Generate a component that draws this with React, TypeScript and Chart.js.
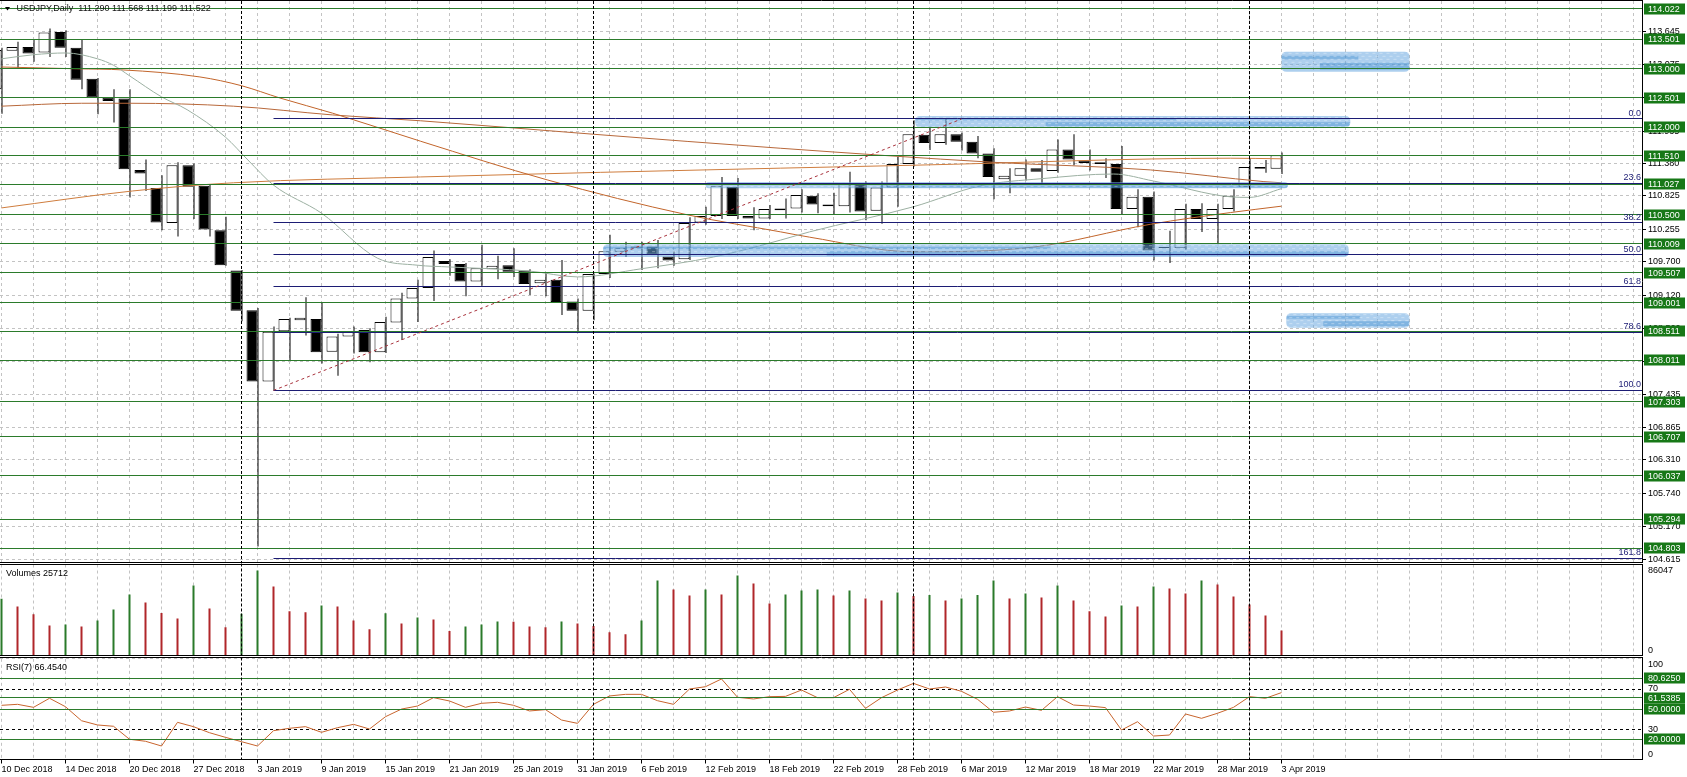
import React, { useEffect, useRef } from 'react';
import { Chart, registerables } from 'chart.js';

Chart.register(...registerables);

// ---------------- data ----------------
const dateLabels = [
  '10 Dec 2018', '14 Dec 2018', '20 Dec 2018', '27 Dec 2018', '3 Jan 2019', '9 Jan 2019',
  '15 Jan 2019', '21 Jan 2019', '25 Jan 2019', '31 Jan 2019', '6 Feb 2019', '12 Feb 2019',
  '18 Feb 2019', '22 Feb 2019', '28 Feb 2019', '6 Mar 2019', '12 Mar 2019', '18 Mar 2019',
  '22 Mar 2019', '28 Mar 2019', '3 Apr 2019',
];

const opens = [
  112.65, 113.31, 113.37, 113.28, 113.63, 113.36, 112.83, 112.51, 112.49, 111.27,
  110.96, 110.36, 111.35, 111.0, 110.24, 109.55, 108.87, 107.65, 108.51, 108.7,
  108.72, 108.16, 108.42, 108.53, 108.15, 108.66, 109.07, 109.25, 109.71, 109.66,
  109.36, 109.57, 109.64, 109.55, 109.33, 109.39, 109.02, 108.86, 109.49, 109.87,
  109.96, 109.96, 109.79, 109.74, 110.37, 110.48, 110.98, 110.48, 110.44, 110.61,
  110.61, 110.83, 110.68, 110.65, 111.03, 110.57, 110.97, 111.37, 111.87, 111.73,
  111.88, 111.75, 111.55, 111.11, 111.17, 111.3, 111.25, 111.62, 111.43, 111.4,
  111.37, 110.6, 110.81, 109.95, 109.93, 110.6, 110.43, 110.6, 110.98, 111.32,
  111.29,
];
const highs = [
  113.36, 113.46, 113.5, 113.69, 113.66, 113.5, 112.84, 112.65, 112.65, 111.45,
  111.18, 111.4, 111.38, 111.01, 110.47, 109.56, 108.91, 108.59, 108.74, 109.09,
  109.0, 108.47, 108.59, 108.56, 108.76, 109.17, 109.39, 109.89, 109.74, 109.68,
  109.99, 109.8, 109.93, 109.57, 109.51, 109.73, 109.07, 109.5, 110.16, 110.04,
  110.04, 110.07, 109.88, 110.46, 110.64, 111.15, 111.13, 110.63, 110.67, 110.78,
  110.94, 110.87, 110.88, 111.24, 111.07, 111.07, 111.5, 112.12, 112.01, 112.14,
  111.91, 111.85, 111.64, 111.3, 111.45, 111.44, 111.79, 111.88, 111.62, 111.47,
  111.68, 110.94, 110.9, 110.23, 110.69, 110.7, 110.69, 110.94, 111.47, 111.44,
  111.568,
];
const lows = [
  112.23, 113.01, 113.12, 113.2, 113.2, 112.65, 112.22, 112.08, 110.8, 110.91,
  110.24, 110.13, 110.43, 110.13, 109.63, 108.68, 104.83, 107.5, 108.02, 108.44,
  107.96, 107.75, 108.13, 107.98, 108.14, 108.36, 108.67, 109.03, 109.46, 109.11,
  109.29, 109.4, 109.44, 109.13, 109.11, 108.79, 108.5, 108.7, 109.42, 109.78,
  109.56, 109.59, 109.63, 109.73, 110.33, 110.43, 110.43, 110.24, 110.43, 110.44,
  110.54, 110.53, 110.51, 110.54, 110.41, 110.35, 110.64, 111.33, 111.61, 111.7,
  111.6, 111.47, 110.77, 110.87, 111.09, 111.01, 111.22, 111.35, 111.26, 111.13,
  110.5, 110.29, 109.72, 109.68, 109.91, 110.21, 110.0, 110.56, 110.93, 111.22,
  111.199,
];
const closes = [
  113.32, 113.37, 113.26, 113.62, 113.36, 112.81, 112.51, 112.45, 111.28, 111.21,
  110.37, 111.35, 110.98, 110.25, 109.64, 108.86, 107.65, 108.5, 108.72, 108.74,
  108.15, 108.42, 108.5, 108.15, 108.67, 109.07, 109.25, 109.78, 109.66, 109.36,
  109.59, 109.63, 109.53, 109.32, 109.39, 109.01, 108.86, 109.49, 109.88, 109.94,
  109.94, 109.82, 109.72, 110.36, 110.48, 111.0, 110.48, 110.44, 110.6, 110.58,
  110.84, 110.68, 110.65, 111.03, 110.56, 110.97, 111.37, 111.88, 111.73, 111.88,
  111.75, 111.55, 111.15, 111.17, 111.3, 111.24, 111.62, 111.45, 111.39, 111.37,
  110.6, 110.81, 109.89, 109.93, 110.6, 110.43, 110.6, 110.83, 111.32, 111.29,
  111.522,
];

const volumes = [
  57600, 49900, 41900, 30800, 31800, 29800, 35800, 46900, 61900, 53900,
  43200, 37800, 71000, 47900, 28800, 42500, 86047, 70000, 44900, 43900,
  50900, 49900, 35800, 26800, 42900, 32800, 38800, 36800, 25100, 29800,
  31800, 34800, 34500, 29800, 28800, 34800, 32800, 30100, 23800, 21800,
  35800, 76000, 67000, 60900, 67000, 61900, 81000, 73000, 52900, 61900,
  66000, 67000, 60900, 66000, 57900, 55900, 63900, 60300, 61300, 55900,
  57900, 61300, 76000, 57900, 62900, 58900, 71000, 55900, 44900, 39800,
  50900, 49900, 70000, 68000, 62900, 76000, 72000, 59900, 51900, 40800,
  25712,
];

const rsiValues = [
  53.8, 54.8, 51.8, 60.8, 52.4, 38.5, 34.3, 33.0, 20.1, 18.1,
  13.4, 36.9, 32.6, 26.6, 22.0, 17.7, 13.4, 28.6, 31.0, 32.6,
  27.0, 31.6, 34.9, 30.3, 42.5, 50.1, 53.1, 61.4, 58.1, 51.8,
  55.8, 56.8, 53.8, 48.2, 49.5, 39.2, 35.9, 54.8, 63.1, 64.7,
  64.7, 58.4, 54.8, 70.0, 72.3, 80.0, 61.8, 60.1, 62.4, 62.7,
  69.0, 61.4, 61.4, 69.7, 50.8, 61.4, 69.0, 75.6, 70.0, 72.0,
  67.7, 59.8, 46.9, 48.2, 52.1, 48.8, 62.4, 54.1, 53.1, 51.5,
  29.3, 37.5, 23.3, 24.3, 45.2, 40.9, 45.9, 51.8, 62.4, 60.8,
  66.454,
];

// moving averages: [bar, price]
const maFast = [
  [0, 113.17], [2, 113.24], [4, 113.27], [6, 113.17], [7, 113.06], [8, 112.88], [10, 112.52],
  [11.6, 112.3], [14, 111.83], [15.4, 111.44], [17, 111.01], [20, 110.53], [23.5, 109.76],
  [26, 109.64], [28, 109.61], [33, 109.54], [36, 109.44], [40, 109.58], [44.5, 109.78],
  [48.7, 110.07], [50.5, 110.21], [57, 110.64], [61.2, 111.0], [65, 111.12], [69.5, 111.2],
  [72, 111.08], [76.8, 110.81], [78, 110.8], [80, 110.95],
];
const ma50 = [
  [0, 113.03], [4.7, 113.0], [7.6, 112.98], [12.4, 112.86], [15, 112.71], [17.4, 112.5],
  [20.7, 112.24], [26.2, 111.76], [34.1, 111.1], [42.9, 110.5], [48.7, 110.21], [50.5, 110.12],
  [57, 109.87], [64.5, 109.95], [71.8, 110.34], [76.8, 110.54], [80, 110.65],
];
const ma100 = [
  [0, 112.36], [5, 112.41], [8, 112.41], [14.5, 112.36], [20.7, 112.21], [26.2, 112.11],
  [37, 111.88], [48.7, 111.64], [62, 111.4], [71.8, 111.27], [78.9, 111.07], [80, 111.05],
];
const ma200 = [
  [0, 110.62], [8.2, 110.91], [14.5, 111.05], [26.2, 111.15], [48.7, 111.3], [57, 111.35],
  [76.8, 111.47], [80, 111.46],
];

const priceTicks = [
  104.615, 105.17, 105.74, 106.31, 106.865, 107.435, 107.995, 108.56, 109.12, 109.7,
  110.255, 110.825, 111.38, 111.935, 112.505, 113.075, 113.645,
];
const priceLevels = [
  114.022, 113.501, 113.0, 112.501, 112.0, 111.51, 111.027, 110.5, 110.009, 109.507,
  109.001, 108.511, 108.011, 107.303, 106.707, 106.037, 105.294, 104.803,
];
const rsiLevels = [80.625, 61.5385, 50.0, 20.0];
const rsiTicks = [0, 30, 70, 100];
const volumeTicks = [0, 86047];

const fibRatios = [0, 23.6, 38.2, 50, 61.8, 78.6, 100, 161.8];
const fibHigh = 112.141;
const fibLow = 107.499;
const fibStartBar = 17;
const fibEndBar = 60;
const separatorBars = [15, 37, 57, 78];

// hand-drawn highlight strokes: bar range and price range
const highlightZones = [
  { b0: 80.0, b1: 88.0, p0: 113.29, p1: 112.95 },
  { b0: 57.1, b1: 84.3, p0: 112.19, p1: 112.0 },
  { b0: 44.0, b1: 80.4, p0: 111.065, p1: 110.955 },
  { b0: 37.6, b1: 84.2, p0: 110.0, p1: 109.78 },
  { b0: 80.3, b1: 88.0, p0: 108.82, p1: 108.57 },
];

// ---------------- style / layout ----------------
const WIDTH = 1687;
const AXIS_WIDTH = 45;
const X_MIN = -0.09375;
const X_MAX = 102.53125;
const PRICE_MIN = 104.5642;
const PRICE_MAX = 114.1588;
const VOL_MAX = 92050;
const FONT = '"Liberation Sans", Arial, sans-serif';
const GRID = '#c3c3c3';
const LEVEL_GREEN = '#2b7b2b';
const BOX_GREEN = '#177817';
const FIB_NAVY = '#1c1c74';
const VOL_GREEN = '#2a7a2a';
const VOL_RED = '#b0262a';
const RSI_COLOR = '#c8642d';
const TRANSPARENT = 'rgba(0,0,0,0)';

const bars = opens.map((_, k) => k);
const gridBars = Array.from({ length: 52 }, (_, i) => i * 2);

function xAxis(showLabels: boolean): any {
  return {
    type: 'linear',
    min: X_MIN,
    max: X_MAX,
    offset: false,
    afterBuildTicks: (s: any) => {
      s.ticks = gridBars.map((v) => ({ value: v }));
    },
    afterFit: (s: any) => {
      s.height = showLabels ? 17.5 : 0;
      s.paddingLeft = 0;
      s.paddingRight = 0;
    },
    grid: {
      offset: false,
      color: GRID,
      lineWidth: 1,
      drawTicks: showLabels,
      tickLength: 4,
      tickBorderDash: [],
      tickColor: (c: any) =>
        c.tick && c.tick.value % 4 === 0 && c.tick.value / 4 < dateLabels.length ? '#000' : TRANSPARENT,
    },
    border: { display: false, dash: [3, 3] },
    ticks: {
      display: showLabels,
      autoSkip: false,
      maxRotation: 0,
      minRotation: 0,
      align: 'start',
      padding: 1,
      color: '#000',
      font: { size: 9, family: FONT },
      callback: (v: any) => {
        const n = Number(v);
        return n % 4 === 0 && n / 4 < dateLabels.length ? dateLabels[n / 4] : '';
      },
    },
  };
}

function hiddenX(): any {
  return { type: 'linear', display: false, min: X_MIN, max: X_MAX, offset: false, grid: { offset: false } };
}

function yAxis(min: number, max: number, tickValues: number[], fmt: any, gridColor: any, tickColor: any): any {
  return {
    type: 'linear',
    position: 'right',
    min,
    max,
    afterBuildTicks: (s: any) => {
      s.ticks = tickValues.map((v) => ({ value: v }));
    },
    afterFit: (s: any) => {
      s.width = AXIS_WIDTH;
      s.paddingTop = 0;
      s.paddingBottom = 0;
    },
    grid: { color: gridColor, lineWidth: 1, drawTicks: true, tickLength: 4, tickColor, tickBorderDash: [] },
    border: { display: false, dash: [3, 3] },
    ticks: { color: '#000', padding: 2, autoSkip: false, font: { size: 9, family: FONT }, callback: fmt },
  };
}

function hLine(ctx: CanvasRenderingContext2D, x0: number, x1: number, y: number) {
  const py = Math.round(y - 0.5) + 0.5;
  ctx.beginPath();
  ctx.moveTo(x0, py);
  ctx.lineTo(x1, py);
  ctx.stroke();
}

function drawSeparators(chart: any, top: number, bottom: number) {
  const { ctx, scales } = chart;
  ctx.save();
  ctx.strokeStyle = '#000';
  ctx.lineWidth = 1;
  ctx.setLineDash([3, 2]);
  separatorBars.forEach((b) => {
    const px = Math.round(scales.x.getPixelForValue(b) - 0.5) + 0.5;
    ctx.beginPath();
    ctx.moveTo(px, top);
    ctx.lineTo(px, bottom);
    ctx.stroke();
  });
  ctx.restore();
}

function drawFrame(chart: any, top: number, bottom: number) {
  const { ctx, chartArea: a } = chart;
  ctx.save();
  ctx.strokeStyle = '#000';
  ctx.lineWidth = 1;
  ctx.setLineDash([]);
  ctx.beginPath();
  ctx.moveTo(0, top);
  ctx.lineTo(a.right + 1, top);
  ctx.moveTo(0, bottom);
  ctx.lineTo(a.right + 1, bottom);
  ctx.moveTo(a.right + 0.5, top);
  ctx.lineTo(a.right + 0.5, bottom);
  ctx.stroke();
  ctx.restore();
}

function drawBox(ctx: CanvasRenderingContext2D, left: number, y: number, text: string) {
  ctx.fillStyle = BOX_GREEN;
  ctx.fillRect(left + 2, Math.round(y) - 5.5, 41, 11);
  ctx.fillStyle = '#fff';
  ctx.font = `9px ${FONT}`;
  ctx.textAlign = 'left';
  ctx.textBaseline = 'middle';
  ctx.fillText(text, left + 6, Math.round(y) + 0.5);
}

// marker-like stroke: rounded band, darker lower streak, regular light stipple
function drawHighlight(ctx: CanvasRenderingContext2D, x0: number, x1: number, y0: number, y1: number) {
  const h = y1 - y0;
  const w = x1 - x0;
  const r = Math.min(h / 2, 5);
  ctx.save();
  ctx.beginPath();
  ctx.moveTo(x0 + r, y0);
  ctx.lineTo(x1 - r, y0);
  ctx.quadraticCurveTo(x1, y0, x1, y0 + r);
  ctx.lineTo(x1, y1 - r);
  ctx.quadraticCurveTo(x1, y1, x1 - r, y1);
  ctx.lineTo(x0 + r, y1);
  ctx.quadraticCurveTo(x0, y1, x0, y1 - r);
  ctx.lineTo(x0, y0 + r);
  ctx.quadraticCurveTo(x0, y0, x0 + r, y0);
  ctx.closePath();
  ctx.fillStyle = 'rgba(105,168,224,0.55)';
  ctx.fill();
  ctx.clip();
  ctx.fillStyle = 'rgba(45,128,200,0.35)';
  ctx.fillRect(x0 + w * 0.3, y0 + h * 0.55, w * 0.7, h * 0.35);
  ctx.fillRect(x0, y0 + h * 0.2, w * 0.6, h * 0.18);
  ctx.fillStyle = 'rgba(255,255,255,0.35)';
  let row = 0;
  for (let yy = y0 + 1; yy < y1 - 1; yy += 3) {
    const shift = (row % 2) * 3;
    for (let xx = x0 + shift; xx < x1; xx += 7) {
      ctx.fillRect(xx, yy, 3, 1);
    }
    row += 1;
  }
  ctx.restore();
}

const mainOverlay = {
  id: 'mainOverlay',
  afterDatasetsDraw(chart: any) {
    const { ctx, chartArea: a, scales } = chart;
    const x = scales.x;
    const y = scales.y;
    ctx.save();
    ctx.beginPath();
    ctx.rect(a.left, a.top, a.right - a.left, a.bottom - a.top);
    ctx.clip();

    highlightZones.forEach((z) =>
      drawHighlight(ctx, x.getPixelForValue(z.b0), x.getPixelForValue(z.b1), y.getPixelForValue(z.p0), y.getPixelForValue(z.p1)),
    );

    ctx.lineWidth = 1;
    ctx.setLineDash([]);
    ctx.strokeStyle = LEVEL_GREEN;
    priceLevels.forEach((v) => hLine(ctx, a.left, a.right, y.getPixelForValue(v)));

    const fx0 = x.getPixelForValue(fibStartBar);
    ctx.strokeStyle = FIB_NAVY;
    ctx.fillStyle = FIB_NAVY;
    ctx.font = `9px ${FONT}`;
    ctx.textAlign = 'right';
    ctx.textBaseline = 'bottom';
    fibRatios.forEach((r) => {
      const p = fibHigh - (r / 100) * (fibHigh - fibLow);
      const py = y.getPixelForValue(p);
      hLine(ctx, fx0, a.right, py);
      ctx.fillText(r.toFixed(1), a.right - 1, Math.round(py) - 1);
    });

    ctx.strokeStyle = '#a8323c';
    ctx.setLineDash([3, 3]);
    ctx.beginPath();
    ctx.moveTo(fx0, y.getPixelForValue(fibLow));
    ctx.lineTo(x.getPixelForValue(fibEndBar), y.getPixelForValue(fibHigh));
    ctx.stroke();
    ctx.restore();

    drawSeparators(chart, a.top, a.bottom);
  },
  afterDraw(chart: any) {
    const { ctx, chartArea: a, scales } = chart;
    drawFrame(chart, 0.5, Math.floor(a.bottom) + 0.5);
    ctx.save();
    priceLevels.forEach((v) => drawBox(ctx, a.right, scales.y.getPixelForValue(v), v.toFixed(3)));

    const last = opens.length - 1;
    ctx.fillStyle = '#000';
    ctx.beginPath();
    ctx.moveTo(5, 7);
    ctx.lineTo(10, 7);
    ctx.lineTo(7.5, 10.5);
    ctx.closePath();
    ctx.fill();
    ctx.font = `9px ${FONT}`;
    ctx.textAlign = 'left';
    ctx.textBaseline = 'middle';
    ctx.fillStyle = '#111';
    ctx.fillText(
      `USDJPY,Daily  ${opens[last].toFixed(3)} ${highs[last].toFixed(3)} ${lows[last].toFixed(3)} ${closes[last].toFixed(3)}`,
      16.5,
      8.5,
    );
    ctx.restore();
  },
};

const volumeOverlay = {
  id: 'volumeOverlay',
  afterDatasetsDraw(chart: any) {
    const a = chart.chartArea;
    drawSeparators(chart, a.top - 1, a.bottom);
  },
  afterDraw(chart: any) {
    const { ctx, chartArea: a } = chart;
    drawFrame(chart, 1.5, Math.floor(a.bottom) - 0.5);
    ctx.save();
    ctx.fillStyle = '#000';
    ctx.font = `9px ${FONT}`;
    ctx.textAlign = 'left';
    ctx.textBaseline = 'middle';
    ctx.fillText(`Volumes ${volumes[volumes.length - 1]}`, 6, 11);
    ctx.restore();
  },
};

const rsiOverlay = {
  id: 'rsiOverlay',
  afterDatasetsDraw(chart: any) {
    const { ctx, chartArea: a, scales } = chart;
    ctx.save();
    ctx.strokeStyle = LEVEL_GREEN;
    ctx.lineWidth = 1;
    ctx.setLineDash([]);
    rsiLevels.forEach((v) => hLine(ctx, a.left, a.right, scales.y.getPixelForValue(v)));
    ctx.restore();
    drawSeparators(chart, 1.5, a.bottom);
  },
  afterDraw(chart: any) {
    const { ctx, chartArea: a, scales } = chart;
    drawFrame(chart, 1.5, Math.floor(a.bottom) + 0.5);
    ctx.save();
    rsiLevels.forEach((v) => drawBox(ctx, a.right, scales.y.getPixelForValue(v), v.toFixed(4)));
    ctx.fillStyle = '#000';
    ctx.font = `9px ${FONT}`;
    ctx.textAlign = 'left';
    ctx.textBaseline = 'middle';
    ctx.fillText(`RSI(7) ${rsiValues[rsiValues.length - 1].toFixed(4)}`, 6, 12);
    ctx.restore();
  },
};

const baseOptions = {
  animation: false,
  responsive: false,
  maintainAspectRatio: false,
  events: [],
  plugins: { legend: { display: false }, tooltip: { enabled: false } },
};

function lineSet(points: number[][], color: string) {
  return {
    type: 'line',
    data: points.map(([b, p]) => ({ x: b, y: p })),
    borderColor: color,
    borderWidth: 1,
    pointRadius: 0,
    cubicInterpolationMode: 'monotone',
    xAxisID: 'x',
    yAxisID: 'y',
    order: 0,
  };
}

export default function App() {
  const mainRef = useRef<HTMLCanvasElement>(null);
  const volRef = useRef<HTMLCanvasElement>(null);
  const rsiRef = useRef<HTMLCanvasElement>(null);

  useEffect(() => {
    document.body.style.margin = '0';
    document.body.style.background = '#fff';
    Chart.defaults.font.family = FONT;
    Chart.defaults.font.size = 9;

    const main = new Chart(mainRef.current as HTMLCanvasElement, {
      type: 'bar',
      data: {
        datasets: [
          lineSet(maFast, '#9cb0a2'),
          lineSet(ma50, '#c2652b'),
          lineSet(ma100, '#b8683a'),
          lineSet(ma200, '#cf7d3e'),
          {
            type: 'bar',
            data: bars.map((k) => ({ x: k, y: [opens[k], closes[k]] })),
            backgroundColor: bars.map((k) => (closes[k] >= opens[k] ? '#ffffff' : '#000000')),
            borderColor: '#000',
            borderWidth: 1,
            borderSkipped: false,
            barThickness: 11,
            inflateAmount: 0,
            xAxisID: 'x',
            yAxisID: 'y',
            order: 1,
          },
          {
            type: 'bar',
            data: bars.map((k) => ({ x: k, y: [lows[k], highs[k]] })),
            backgroundColor: '#000',
            borderWidth: 0,
            barThickness: 1,
            inflateAmount: 0,
            xAxisID: 'xw',
            yAxisID: 'y',
            order: 2,
          },
        ] as any,
      },
      options: {
        ...baseOptions,
        layout: { padding: { top: 1, bottom: 1, left: 0, right: 0 } },
        scales: {
          x: xAxis(false),
          xw: hiddenX(),
          y: yAxis(PRICE_MIN, PRICE_MAX, priceTicks, (v: any) => Number(v).toFixed(3), GRID, '#000'),
        },
      } as any,
      plugins: [mainOverlay as any],
    });

    const vol = new Chart(volRef.current as HTMLCanvasElement, {
      type: 'bar',
      data: {
        datasets: [
          {
            data: bars.map((k) => ({ x: k, y: volumes[k] })),
            backgroundColor: bars.map((k) => (k === 0 || volumes[k] > volumes[k - 1] ? VOL_GREEN : VOL_RED)),
            borderWidth: 0,
            barThickness: 2,
            inflateAmount: 0,
          },
        ] as any,
      },
      options: {
        ...baseOptions,
        layout: { padding: { top: 1.5, bottom: 0, left: 0, right: 0 } },
        scales: {
          x: xAxis(false),
          y: yAxis(
            0,
            VOL_MAX,
            volumeTicks,
            (v: any) => (Number(v) === 0 ? ['0', ''] : String(v)),
            (c: any) => (c.tick && c.tick.value === 0 ? GRID : TRANSPARENT),
            TRANSPARENT,
          ),
        },
      } as any,
      plugins: [volumeOverlay as any],
    });

    const rsi = new Chart(rsiRef.current as HTMLCanvasElement, {
      type: 'line',
      data: {
        datasets: [
          {
            data: bars.map((k) => ({ x: k, y: rsiValues[k] })),
            borderColor: RSI_COLOR,
            borderWidth: 1,
            pointRadius: 0,
            tension: 0,
          },
        ] as any,
      },
      options: {
        ...baseOptions,
        layout: { padding: { top: 2.8, bottom: 0, left: 0, right: 0 } },
        scales: {
          x: xAxis(true),
          y: yAxis(
            0,
            100,
            rsiTicks,
            (v: any) => {
              const n = Number(v);
              if (n === 100) return ['', '100'];
              if (n === 0) return ['0', ''];
              return String(n);
            },
            (c: any) => (c.tick && (c.tick.value === 30 || c.tick.value === 70) ? '#000' : GRID),
            TRANSPARENT,
          ),
        },
      } as any,
      plugins: [rsiOverlay as any],
    });

    return () => {
      main.destroy();
      vol.destroy();
      rsi.destroy();
    };
  }, []);

  return (
    <div style={{ position: 'relative', width: WIDTH, height: 777, background: '#fff', overflow: 'hidden' }}>
      <canvas ref={mainRef} width={WIDTH} height={563} style={{ position: 'absolute', left: 0, top: 0, width: WIDTH, height: 563 }} />
      <canvas ref={volRef} width={WIDTH} height={93} style={{ position: 'absolute', left: 0, top: 563, width: WIDTH, height: 93 }} />
      <canvas ref={rsiRef} width={WIDTH} height={121} style={{ position: 'absolute', left: 0, top: 656, width: WIDTH, height: 121 }} />
    </div>
  );
}
